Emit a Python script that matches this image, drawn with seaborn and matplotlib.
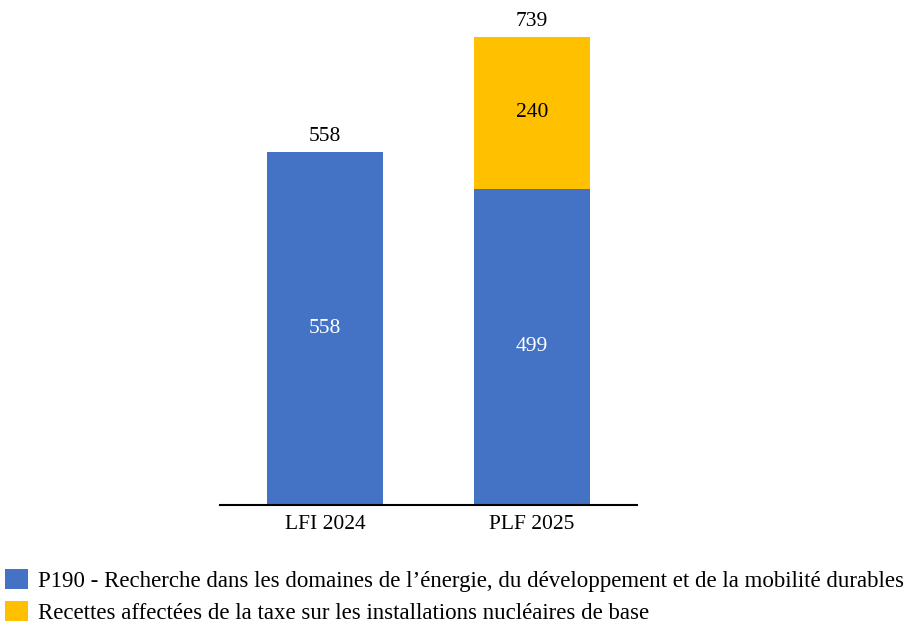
import pandas as pd
import seaborn as sns
import matplotlib.pyplot as plt
from matplotlib.patches import Patch

categories = ["LFI 2024", "PLF 2025"]
p190 = [558, 499]
taxe = [0, 240]
series_names = [
    "P190 - Recherche dans les domaines de l\u2019énergie, du développement et de la mobilité durables",
    "Recettes affectées de la taxe sur les installations nucléaires de base",
]

blue = "#4472C4"
yellow = "#FFC000"

totals = [a + b for a, b in zip(p190, taxe)]
df = pd.DataFrame({"cat": categories, "p190": p190, "taxe": taxe, "total": totals})

sns.set_theme(style="white")
plt.rcParams["font.family"] = ["Liberation Serif", "DejaVu Serif"]
plt.rcParams["text.color"] = "black"

fig = plt.figure(figsize=(9.19, 6.38), dpi=100)
ax = fig.add_axes([0.2394, 0.2085, 0.4538, 0.7743])

# stacked look: totals in yellow, base series drawn over it in blue
sns.barplot(data=df, x="cat", y="total", color=yellow, width=0.56, saturation=1,
            linewidth=0, ax=ax)
sns.barplot(data=df, x="cat", y="p190", color=blue, width=0.56, saturation=1,
            linewidth=0, ax=ax)

ax.set_xlim(-0.507, 1.507)
ax.set_ylim(0, 780)
ax.set_xlabel("")
ax.set_ylabel("")
ax.set_yticks([])
for s in ["top", "right", "left"]:
    ax.spines[s].set_visible(False)
ax.spines["bottom"].set_color("black")
ax.spines["bottom"].set_linewidth(1.5)
ax.tick_params(axis="x", length=0, labelsize=15.5, pad=7, colors="black")

fs = 15.5
for i, row in df.iterrows():
    ax.text(i, row["p190"] / 2, f"{row['p190']}", ha="center", va="center",
            fontsize=fs, color="white")
    if row["taxe"] > 0:
        ax.text(i, row["p190"] + row["taxe"] / 2, f"{row['taxe']}", ha="center",
                va="center", fontsize=fs, color="black")
    ax.annotate(f"{row['total']}", (i, row["total"]), xytext=(0, 4),
                textcoords="offset points", ha="center", va="bottom",
                fontsize=fs, color="black", annotation_clip=False)

handles = [Patch(facecolor=blue, edgecolor="none"), Patch(facecolor=yellow, edgecolor="none")]
leg = fig.legend(handles, series_names, loc="upper left",
                 bbox_to_anchor=(5 / 919, 1 - 569 / 638), bbox_transform=fig.transFigure,
                 frameon=False, fontsize=16.5, handlelength=1.0, handleheight=0.95,
                 handletextpad=0.42, labelspacing=0.4, borderaxespad=0, borderpad=0)
for t in leg.get_texts():
    t.set_color("black")

fig.savefig("out.png", dpi=100)
